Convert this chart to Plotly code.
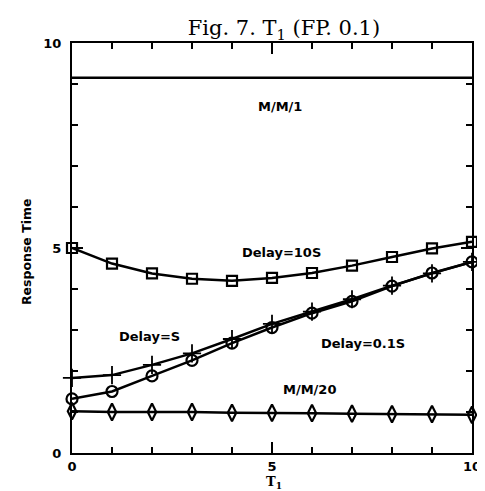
import plotly.graph_objects as go

t1 = [0, 1, 2, 3, 4, 5, 6, 7, 8, 9, 10]
mm1 = [9.15] * 11
delay_10s = [5.0, 4.62, 4.38, 4.25, 4.2, 4.27, 4.39, 4.57, 4.78, 4.99, 5.15]
delay_s = [1.83, 1.9, 2.15, 2.43, 2.78, 3.15, 3.45, 3.75, 4.08, 4.38, 4.66]
delay_01s = [1.32, 1.5, 1.88, 2.26, 2.68, 3.06, 3.41, 3.7, 4.07, 4.39, 4.66]
mm20 = [1.02, 1.0, 1.0, 1.0, 0.98, 0.98, 0.97, 0.96, 0.95, 0.95, 0.93]

labels = [
    ("M/M/1", 5.2, 8.46),
    ("Delay=10S", 5.24, 4.9),
    ("Delay=S", 1.93, 2.83),
    ("Delay=0.1S", 7.27, 2.68),
    ("M/M/20", 5.93, 1.54),
]

fig = go.Figure()
line = dict(color="black", width=2.5)
fig.add_trace(go.Scatter(x=t1, y=mm1, mode="lines", line=line, cliponaxis=False))
fig.add_trace(go.Scatter(x=t1, y=delay_10s, mode="lines+markers", line=line,
                         marker=dict(symbol="square-open", size=10, color="black", line=dict(width=2.2)),
                         cliponaxis=False))
fig.add_trace(go.Scatter(x=t1, y=delay_s, mode="lines+markers", line=line,
                         marker=dict(symbol="cross-thin-open", size=13, color="black", line=dict(width=1.8)),
                         cliponaxis=False))
fig.add_trace(go.Scatter(x=t1, y=delay_01s, mode="lines+markers", line=line,
                         marker=dict(symbol="circle-open", size=11, color="black", line=dict(width=2.2)),
                         cliponaxis=False))
fig.add_trace(go.Scatter(x=t1, y=mm20, mode="lines+markers", line=line,
                         marker=dict(symbol="diamond-tall-open", size=12, color="black", line=dict(width=2.2)),
                         cliponaxis=False))

for txt, x, y in labels:
    fig.add_annotation(x=x, y=y, text=txt, showarrow=False,
                       font=dict(family="DejaVu Sans", size=13, color="black", weight="bold"))

fig.add_annotation(xref="paper", yref="paper", x=0.506, y=-0.073, yanchor="middle",
                   text="T<sub>1</sub>", showarrow=False,
                   font=dict(family="DejaVu Serif", size=13, color="black", weight="bold"))
fig.add_annotation(xref="paper", yref="paper", x=-0.115, y=0.49, xanchor="center",
                   yanchor="middle", textangle=-90, text="Response Time", showarrow=False,
                   font=dict(family="DejaVu Sans", size=12.5, color="black", weight="bold"))

axis_common = dict(
    showgrid=False, zeroline=False, showline=True, linecolor="black", linewidth=2.2,
    mirror="ticks", ticks="inside", ticklen=11, tickwidth=2, tickcolor="black",
    dtick=5, tick0=0,
    minor=dict(dtick=1, ticks="inside", ticklen=6, tickwidth=2, tickcolor="black"),
    tickfont=dict(family="DejaVu Sans", size=13, color="black", weight="bold"),
)

fig.update_layout(
    width=485, height=491,
    paper_bgcolor="white", plot_bgcolor="white",
    showlegend=False,
    margin=dict(l=64, r=15, t=35, b=46),
    title=dict(text="Fig. 7. T<sub>1</sub> (FP. 0.1)", x=0.569, xanchor="center",
               y=0.959, yanchor="middle", yref="container",
               font=dict(family="DejaVu Serif", size=21, color="black")),
    xaxis=dict(range=[0, 10], ticklabelstandoff=0, **axis_common),
    yaxis=dict(range=[0, 10], ticklabelstandoff=6, **axis_common),
)

fig.write_html("out.html")
